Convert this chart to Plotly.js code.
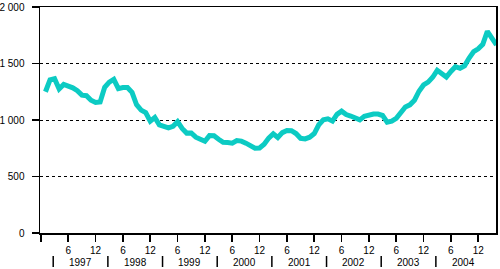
<!DOCTYPE html>
<html>
<head>
<meta charset="utf-8">
<script src="https://cdn.plot.ly/plotly-3.0.1.min.js"></script>
<style>html,body{margin:0;padding:0;background:#fff;}#chart{width:500px;height:269px;}</style>
</head>
<body>
<div id="chart"></div>
<script>
// Monthly values, Jan 1997 .. Apr 2005
const values = [
  1250, 1355, 1365, 1275, 1315, 1305, 1285, 1260, 1220, 1215, 1175, 1155,
  1160, 1290, 1335, 1360, 1278, 1288, 1288, 1245, 1135, 1088, 1065, 990,
  1022, 957, 947, 930, 945, 985, 925, 884, 885, 848, 830, 812,
  862, 860, 830, 802, 800, 795, 818, 813, 795, 770, 751, 752,
  785, 840, 877, 845, 888, 907, 905, 880, 838, 833, 848, 880,
  958, 1001, 1010, 990, 1050, 1078, 1048, 1035, 1020, 1001, 1032, 1047,
  1052, 1052, 1040, 980, 990, 1015, 1068, 1115, 1134, 1175, 1255, 1310,
  1335, 1378, 1440, 1412, 1380, 1430, 1472, 1458, 1480, 1548, 1605, 1630,
  1670, 1785, 1720, 1665
];
const years = ['1997', '1998', '1999', '2000', '2001', '2002', '2003', '2004'];
const xTickVals = [0, 6, 12, 18, 24, 30, 36, 42, 48, 54, 60, 66, 72, 78, 84, 90, 96];
const xTickText = ['', '6', '12', '6', '12', '6', '12', '6', '12', '6', '12', '6', '12', '6', '12', '6', '12'];
const yTickVals = [0, 500, 1000, 1500, 2000];
const yTickText = ['0', '500', '1 000', '1 500', '2 000'];

const months = values.map((v, i) => i + 1);

const font = {family: 'Liberation Sans, Arial, sans-serif', size: 10, color: '#000'};

const annotations = years.map((y, i) => ({
  x: 8.7 + 12 * i, xref: 'x', y: 0, yref: 'paper', yanchor: 'middle', yshift: -29,
  text: y, showarrow: false, font: font
}));
const shapes = years.map((y, i) => ({
  type: 'line', xref: 'x', yref: 'paper', ysizemode: 'pixel', yanchor: 0,
  x0: 2.7 + 12 * i, x1: 2.7 + 12 * i, y0: -23, y1: -34,
  line: {color: '#000', width: 1.5}
}));

const data = [{
  x: months, y: values, type: 'scatter', mode: 'lines',
  line: {color: '#0ccbc3', width: 5},
  hoverinfo: 'skip'
}];

const layout = {
  width: 500, height: 269,
  margin: {l: 40, r: 4, t: 7, b: 36},
  paper_bgcolor: '#fff', plot_bgcolor: '#fff',
  showlegend: false,
  font: font,
  xaxis: {
    range: [-0.2, 99.9], tickmode: 'array', tickvals: xTickVals, ticktext: xTickText,
    ticks: 'outside', ticklen: 7, tickwidth: 1.5, tickcolor: '#000',
    showgrid: false, zeroline: false,
    showline: true, linecolor: '#000', linewidth: 1.5, mirror: true,
    tickfont: font, fixedrange: true
  },
  yaxis: {
    range: [0, 2000], tickmode: 'array', tickvals: yTickVals, ticktext: yTickText,
    ticks: 'outside', ticklen: 7, tickwidth: 1.5, tickcolor: '#000',
    showgrid: true, gridcolor: '#000', gridwidth: 1, griddash: '3px,3px',
    zeroline: false,
    showline: true, linecolor: '#000', linewidth: 1.5, mirror: true,
    tickfont: font, ticklabelstandoff: 5, fixedrange: true
  },
  annotations: annotations,
  shapes: shapes
};

Plotly.newPlot('chart', data, layout, {displayModeBar: false, staticPlot: true});
</script>
</body>
</html>
